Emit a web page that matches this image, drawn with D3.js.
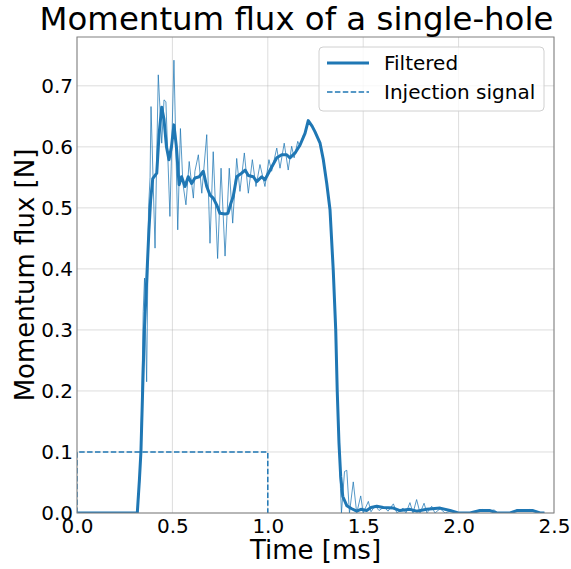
<!DOCTYPE html>
<html>
<head>
<meta charset="utf-8">
<script src="https://cdn.jsdelivr.net/npm/d3@7/dist/d3.min.js"></script>
<style>
    body { margin: 0; background: #fff; }
    text { font-family: "DejaVu Sans", sans-serif; fill: #000; }
</style>
</head>
<body>
<script>
// time [ms] / momentum flux [N]
var rawT = [0, 0.318, 0.330, 0.338, 0.347, 0.354, 0.365, 0.375, 0.383, 0.388, 0.409, 0.426, 0.444, 0.456, 0.466,
    0.487, 0.508, 0.528, 0.542, 0.555, 0.571, 0.588, 0.597, 0.610, 0.618, 0.636, 0.654, 0.680, 0.697, 0.714,
    0.737, 0.755, 0.776, 0.798, 0.816, 0.837, 0.854, 0.877, 0.898, 0.919, 0.938, 0.959, 0.985, 1.006, 1.020,
    1.047, 1.064, 1.086, 1.107, 1.125, 1.138, 1.157, 1.169, 1.185, 1.198, 1.212, 1.232, 1.247, 1.274, 1.291,
    1.309, 1.326, 1.343, 1.356, 1.364, 1.373, 1.381, 1.386, 1.402, 1.414, 1.428, 1.448, 1.466, 1.487, 1.500,
    1.527, 1.541, 1.562, 1.583, 1.609, 1.630, 1.658, 1.677, 1.709, 1.724, 1.745, 1.761, 1.780, 1.798, 1.819,
    1.834, 1.859, 1.876, 1.903, 1.929, 1.965, 1.997, 2.060, 2.091, 2.123, 2.154, 2.186, 2.207, 2.280, 2.306,
    2.343, 2.374, 2.406, 2.427, 2.450];
var rawV = [0, 0, 0.06, 0.16, 0.33, 0.385, 0.215, 0.50, 0.55, 0.666, 0.434, 0.718, 0.606, 0.677, 0.674,
    0.486, 0.742, 0.464, 0.630, 0.540, 0.505, 0.576, 0.550, 0.516, 0.560, 0.587, 0.524, 0.620, 0.442, 0.592,
    0.417, 0.565, 0.421, 0.565, 0.475, 0.581, 0.527, 0.590, 0.524, 0.579, 0.535, 0.571, 0.535, 0.579, 0.560,
    0.598, 0.565, 0.606, 0.562, 0.601, 0.582, 0.609, 0.600, 0.618, 0.625, 0.643, 0.634, 0.625, 0.606, 0.579,
    0.540, 0.497, 0.398, 0.300, 0.199, 0.115, 0.040, 0.0, 0.068, 0.070, 0.0, 0.051, 0.0, 0.028, 0.0,
    0.019, 0.002, 0.012, 0.004, 0.010, 0.003, 0.015, 0.0, 0.008, 0.0, 0.017, 0.0, 0.022, 0.0, 0.016,
    0.0, 0.011, 0.0, 0.007, 0.0, 0.004, 0.0, 0.0, 0.003, 0.006, 0.003, 0.005, 0.0, 0.0, 0.005,
    0.003, 0.006, 0.003, 0.0, 0.0];

var filteredT = [0, 0.316, 0.327, 0.335, 0.344, 0.353, 0.365, 0.377, 0.386, 0.397, 0.418, 0.430, 0.444, 0.456,
    0.469, 0.482, 0.495, 0.508, 0.521, 0.535, 0.548, 0.566, 0.583, 0.601, 0.618, 0.641, 0.662, 0.680, 0.697,
    0.714, 0.732, 0.749, 0.776, 0.791, 0.807, 0.819, 0.837, 0.863, 0.881, 0.898, 0.924, 0.942, 0.968, 0.985,
    1.012, 1.047, 1.073, 1.099, 1.116, 1.143, 1.169, 1.195, 1.212, 1.232, 1.247, 1.274, 1.291, 1.309, 1.326,
    1.343, 1.356, 1.364, 1.373, 1.382, 1.393, 1.414, 1.440, 1.466, 1.488, 1.518, 1.541, 1.571, 1.605, 1.658,
    1.693, 1.745, 1.780, 1.833, 1.903, 1.955, 1.998, 2.060, 2.112, 2.165, 2.200, 2.270, 2.305, 2.390, 2.427,
    2.450];
var filteredV = [0, 0, 0.054, 0.10, 0.20, 0.30, 0.38, 0.464, 0.513, 0.548, 0.557, 0.620, 0.665, 0.645,
    0.600, 0.579, 0.600, 0.636, 0.600, 0.538, 0.551, 0.535, 0.551, 0.540, 0.549, 0.551, 0.560, 0.535, 0.521,
    0.516, 0.505, 0.491, 0.490, 0.491, 0.508, 0.519, 0.551, 0.557, 0.562, 0.553, 0.551, 0.543, 0.551, 0.546,
    0.562, 0.582, 0.587, 0.587, 0.582, 0.590, 0.603, 0.622, 0.643, 0.634, 0.625, 0.606, 0.579, 0.540, 0.497,
    0.398, 0.300, 0.199, 0.115, 0.060, 0.027, 0.012, 0.007, 0.003, 0.006, 0.004, 0.009, 0.011, 0.009, 0.008,
    0.004, 0.006, 0.003, 0.006, 0.008, 0.004, 0.0, 0.0, 0.004, 0.004, 0.0, 0.0, 0.004, 0.004, 0.0,
    0.0];

var injectionT = [0, 0, 1.0, 1.0];
var injectionV = [0, 0.1, 0.1, 0];

var xTicks = [0, 0.5, 1.0, 1.5, 2.0, 2.5];
var yTicks = [0, 0.1, 0.2, 0.3, 0.4, 0.5, 0.6, 0.7];
var legendLabels = ['Filtered', 'Injection signal'];

(function() {
    var w = 571,
        h = 569;
    var m = {left: 77, right: 17, top: 37, bottom: 56};
    var blue = '#1f77b4';

    var svg = d3.select('body')
        .append('svg')
        .attr('width', w)
        .attr('height', h);

    var x = d3.scaleLinear().domain([0, 2.5]).range([m.left, w - m.right]);
    var y = d3.scaleLinear().domain([0, 0.78]).range([h - m.bottom, m.top]);

    // grid
    var grid = svg.append('g').attr('stroke', '#b0b0b0').attr('stroke-opacity', 0.55).attr('stroke-width', 0.8);
    grid.selectAll('.gx').data(xTicks).enter().append('line')
        .attr('x1', function(d) { return x(d); }).attr('x2', function(d) { return x(d); })
        .attr('y1', y.range()[0]).attr('y2', y.range()[1]);
    grid.selectAll('.gy').data(yTicks).enter().append('line')
        .attr('x1', x.range()[0]).attr('x2', x.range()[1])
        .attr('y1', function(d) { return y(d); }).attr('y2', function(d) { return y(d); });

    // axes (labels only, matplotlib style without tick marks)
    var xAxis = svg.append('g')
        .attr('transform', 'translate(0,' + y(0) + ')')
        .call(d3.axisBottom(x).tickValues(xTicks).tickFormat(d3.format('.1f')).tickSize(0).tickPadding(6));
    var yAxis = svg.append('g')
        .attr('transform', 'translate(' + x(0) + ',0)')
        .call(d3.axisLeft(y).tickValues(yTicks).tickFormat(d3.format('.1f')).tickSize(0).tickPadding(4));
    [xAxis, yAxis].forEach(function(a) {
        a.select('.domain').remove();
        a.selectAll('text').attr('font-family', '"DejaVu Sans", sans-serif').attr('font-size', 20).attr('fill', '#000');
    });

    svg.append('clipPath').attr('id', 'plot')
        .append('rect')
        .attr('x', x.range()[0]).attr('y', y.range()[1])
        .attr('width', x.range()[1] - x.range()[0]).attr('height', y.range()[0] - y.range()[1]);

    var line = d3.line()
        .x(function(d) { return x(d[0]); })
        .y(function(d) { return y(d[1]); });

    var plot = svg.append('g').attr('clip-path', 'url(#plot)');
    plot.append('path')
        .datum(d3.zip(rawT, rawV))
        .attr('d', line)
        .attr('fill', 'none')
        .attr('stroke', blue)
        .attr('stroke-opacity', 0.75)
        .attr('stroke-width', 1);
    plot.append('path')
        .datum(d3.zip(filteredT, filteredV))
        .attr('d', line)
        .attr('fill', 'none')
        .attr('stroke', blue)
        .attr('stroke-width', 3)
        .attr('stroke-linejoin', 'round');
    plot.append('path')
        .datum(d3.zip(injectionT, injectionV))
        .attr('d', line)
        .attr('fill', 'none')
        .attr('stroke', blue)
        .attr('stroke-width', 1.5)
        .attr('stroke-dasharray', '5.5,2.4');

    // frame
    svg.append('rect')
        .attr('x', x.range()[0]).attr('y', y.range()[1])
        .attr('width', x.range()[1] - x.range()[0]).attr('height', y.range()[0] - y.range()[1])
        .attr('fill', 'none')
        .attr('stroke', '#808080')
        .attr('stroke-width', 1);

    // titles
    svg.append('text')
        .attr('x', (x.range()[0] + x.range()[1]) / 2 - 19)
        .attr('y', 30)
        .attr('text-anchor', 'middle')
        .attr('font-size', 32.4)
        .text('Momentum flux of a single-hole');
    svg.append('text')
        .attr('x', (x.range()[0] + x.range()[1]) / 2)
        .attr('y', 559)
        .attr('text-anchor', 'middle')
        .attr('font-size', 26)
        .text('Time [ms]');
    svg.append('text')
        .attr('transform', 'translate(34,' + ((y.range()[0] + y.range()[1]) / 2) + ') rotate(-90)')
        .attr('text-anchor', 'middle')
        .attr('font-size', 26)
        .text('Momentum flux [N]');

    // legend
    var lg = svg.append('g').attr('transform', 'translate(319,47)');
    lg.append('rect')
        .attr('width', 225).attr('height', 64)
        .attr('rx', 4)
        .attr('fill', '#fff').attr('fill-opacity', 0.8)
        .attr('stroke', '#d0d0d0');
    var item = lg.selectAll('.item').data(legendLabels).enter().append('g')
        .attr('transform', function(d, i) { return 'translate(0,' + (16 + i * 29) + ')'; });
    item.append('line')
        .attr('x1', 8).attr('x2', 50)
        .attr('stroke', blue)
        .attr('stroke-width', function(d, i) { return i === 0 ? 3 : 1.5; })
        .attr('stroke-dasharray', function(d, i) { return i === 0 ? null : '5.5,2.4'; });
    item.append('text')
        .attr('x', 65)
        .attr('dy', '0.35em')
        .attr('font-size', 20)
        .text(function(d) { return d; });
})();
</script>
</body>
</html>
